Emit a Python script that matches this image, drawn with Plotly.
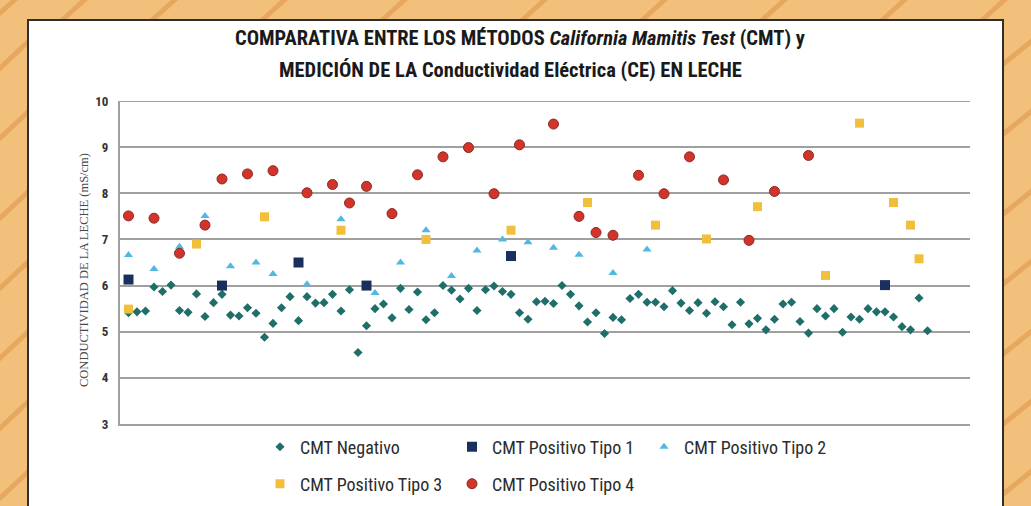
import plotly.graph_objects as go

# ---------------- data ----------------
neg_idx = list(range(1, 96))
neg_val = [5.41, 5.43, 5.45, 5.97, 5.87, 6.01, 5.46, 5.42, 5.82, 5.33,
           5.63, 5.81, 5.36, 5.34, 5.52, 5.40, 4.88, 5.18, 5.52, 5.76,
           5.24, 5.76, 5.62, 5.63, 5.81, 5.45, 5.91, 4.55, 5.13, 5.50,
           5.60, 5.30, 5.94, 5.48, 5.86, 5.26, 5.41, 6.00, 5.90, 5.71,
           5.94, 5.46, 5.91, 5.99, 5.87, 5.81, 5.41, 5.27, 5.65, 5.66,
           5.61, 6.00, 5.81, 5.56, 5.21, 5.41, 4.96, 5.31, 5.26, 5.72,
           5.81, 5.64, 5.64, 5.54, 5.89, 5.62, 5.46, 5.63, 5.40, 5.65,
           5.54, 5.15, 5.64, 5.17, 5.29, 5.04, 5.27, 5.60, 5.64, 5.22,
           4.97, 5.50, 5.34, 5.50, 4.99, 5.32, 5.27, 5.50, 5.43, 5.43,
           5.32, 5.11, 5.04, 5.73, 5.02]

t1_idx = [1, 12, 21, 29, 46, 90]
t1_val = [6.13, 6.00, 6.50, 6.00, 6.64, 6.01]

t2_idx = [1, 4, 7, 10, 13, 16, 18, 22, 26, 30, 33, 36, 39, 42, 45, 48, 51, 54, 58, 62]
t2_val = [6.66, 6.36, 6.84, 7.51, 6.42, 6.50, 6.25, 6.03, 7.44, 5.84,
          6.50, 7.20, 6.21, 6.76, 7.00, 6.94, 6.82, 6.67, 6.27, 6.78]

t3_idx = [1, 9, 17, 26, 36, 46, 55, 63, 69, 75, 83, 87, 91, 93, 94]
t3_val = [5.49, 6.90, 7.49, 7.20, 7.00, 7.20, 7.80, 7.31, 7.01, 7.71,
          6.22, 9.52, 7.80, 7.31, 6.58]

t4_idx = [1, 4, 7, 10, 12, 15, 18, 22, 25, 27, 29, 32, 35, 38, 41, 44, 47,
          51, 54, 56, 58, 61, 64, 67, 71, 74, 77, 81]
t4_val = [7.51, 7.46, 6.70, 7.31, 8.31, 8.42, 8.49, 8.01, 8.19, 7.79,
          8.15, 7.56, 8.40, 8.79, 8.99, 7.99, 9.05, 9.50, 7.50, 7.15,
          7.09, 8.39, 7.99, 8.79, 8.29, 6.98, 8.04, 8.82]

y_ticks = [3, 4, 5, 6, 7, 8, 9, 10]

# ---------------- layout geometry ----------------
W, H = 1031, 506
L, R, T, B = 120, 61, 101, 82
PW, PH = W - L - R, H - T - B

def px(x):
    return (x - L) / PW

def py(y):
    return (H - B - y) / PH

NARROW = "Liberation Sans Narrow, Arial Narrow, Roboto Condensed, Roboto, sans-serif"

fig = go.Figure()

fig.add_trace(go.Scatter(
    x=neg_idx, y=neg_val, mode="markers", name="CMT Negativo",
    marker=dict(symbol="diamond", size=7, color="#1f6e69"),
    legend="legend"))
fig.add_trace(go.Scatter(
    x=t1_idx, y=t1_val, mode="markers", name="CMT Positivo Tipo 1",
    marker=dict(symbol="square", size=10, color="#1b2f5e"),
    legend="legend"))
fig.add_trace(go.Scatter(
    x=t2_idx, y=t2_val, mode="markers", name="CMT Positivo Tipo 2",
    marker=dict(symbol="triangle-up", size=8, color="#4fb8e3"),
    legend="legend"))
fig.add_trace(go.Scatter(
    x=t3_idx, y=t3_val, mode="markers", name="CMT Positivo Tipo 3",
    marker=dict(symbol="square", size=9, color="#f2bf3c"),
    legend="legend2"))
fig.add_trace(go.Scatter(
    x=t4_idx, y=t4_val, mode="markers", name="CMT Positivo Tipo 4",
    marker=dict(symbol="circle", size=10, color="#d2342b",
                line=dict(color="#8a2a22", width=1)),
    legend="legend2"))

shapes = []
# textured orange background streaks
streak_color = "rgba(214,140,60,0.45)"
for x0 in [-10, 60, 150, 260, 380, 520, 640, 760, 880, 980]:
    shapes.append(dict(type="line", xref="paper", yref="paper",
                       x0=px(x0), y0=py(22), x1=px(x0 + 30), y1=py(-5),
                       line=dict(color=streak_color, width=5), layer="below"))
for y0 in [40, 110, 190, 260, 330, 400, 470]:
    shapes.append(dict(type="line", xref="paper", yref="paper",
                       x0=px(-2), y0=py(y0 + 30), x1=px(30), y1=py(y0),
                       line=dict(color=streak_color, width=5), layer="below"))
    shapes.append(dict(type="line", xref="paper", yref="paper",
                       x0=px(1002), y0=py(y0 + 25), x1=px(1033), y1=py(y0),
                       line=dict(color=streak_color, width=5), layer="below"))
# white panel
shapes.append(dict(type="rect", xref="paper", yref="paper",
                   x0=px(28), y0=py(20), x1=px(1003), y1=py(H + 5),
                   fillcolor="white", line=dict(color="#2f2f2f", width=2),
                   layer="below"))
# top gridline (in case it's skipped)
shapes.append(dict(type="line", xref="paper", yref="y",
                   x0=0, x1=1, y0=10, y1=10,
                   line=dict(color="#a0a0a0", width=2), layer="below"))

annotations = [
    dict(text="<b>COMPARATIVA ENTRE LOS MÉTODOS <i>California Mamitis Test</i> (CMT) y</b>",
         xref="paper", yref="paper", x=px(520), y=py(38), showarrow=False,
         xanchor="center", yanchor="middle",
         font=dict(family=NARROW, size=20.5, color="#1a1a1a")),
    dict(text="<b>MEDICIÓN DE LA Conductividad Eléctrica (CE) EN LECHE</b>",
         xref="paper", yref="paper", x=px(510), y=py(70), showarrow=False,
         xanchor="center", yanchor="middle",
         font=dict(family=NARROW, size=20.5, color="#1a1a1a")),
    dict(text="CONDUCTIVIDAD DE LA LECHE (mS/cm)",
         xref="paper", yref="paper", x=px(84), y=py(270), showarrow=False,
         textangle=-90, xanchor="center", yanchor="middle",
         font=dict(family="Liberation Serif, DejaVu Serif, serif", size=12.5, color="#4a4a4a")),
]

legend_font = dict(family=NARROW, size=18, color="#2b2b2b")

fig.update_layout(
    width=W, height=H,
    margin=dict(l=L, r=R, t=T, b=B, autoexpand=False),
    paper_bgcolor="#f2c07a",
    plot_bgcolor="white",
    showlegend=True,
    shapes=shapes,
    annotations=annotations,
    legend=dict(orientation="h", x=px(260), y=py(447), xanchor="left", yanchor="middle",
                entrywidth=147, entrywidthmode="pixels", font=legend_font,
                bgcolor="rgba(0,0,0,0)", itemclick=False),
    legend2=dict(orientation="h", x=px(260), y=py(484), xanchor="left", yanchor="middle",
                 entrywidth=147, entrywidthmode="pixels", font=legend_font,
                 bgcolor="rgba(0,0,0,0)", itemclick=False),
    xaxis=dict(range=[0, 100], showgrid=False, zeroline=False, showticklabels=False,
               showline=True, linecolor="#a0a0a0", linewidth=2, ticks=""),
    yaxis=dict(range=[3, 10], tickvals=y_ticks, ticktext=[str(v) for v in y_ticks],
               showgrid=True, gridcolor="#a0a0a0", gridwidth=2, zeroline=False,
               showline=True, linecolor="#a0a0a0", linewidth=2, ticks="",
               ticklabelstandoff=7,
               tickfont=dict(family=NARROW, size=13, color="#333333", weight="bold")),
)

fig.write_html("out.html",
               config={"displayModeBar": False},
               post_script="document.body.style.margin='0';document.body.style.overflow='hidden';")
